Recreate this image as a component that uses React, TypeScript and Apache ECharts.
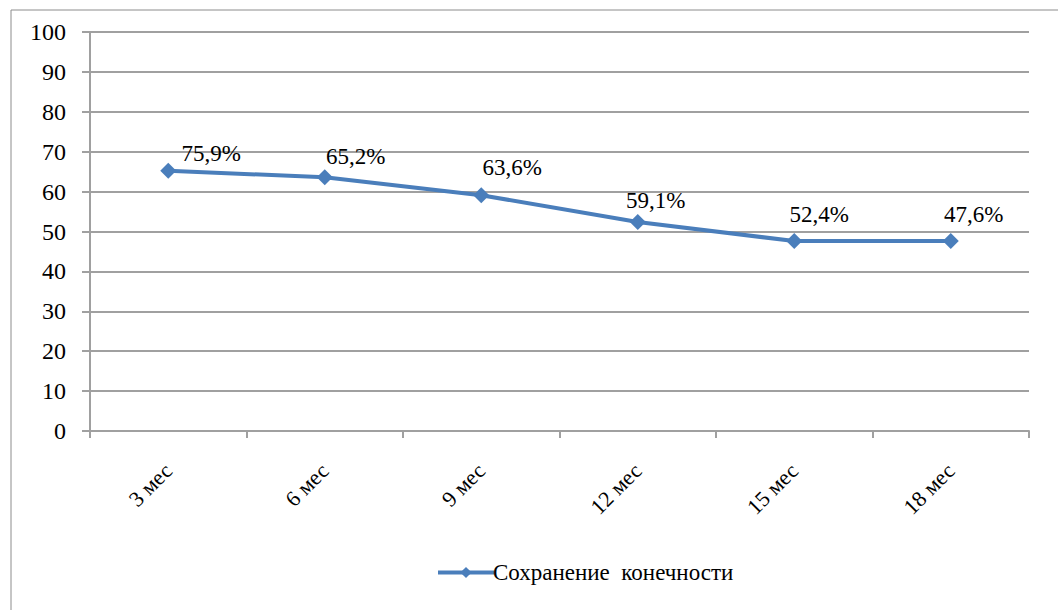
import React, { useEffect, useRef } from "react";
import * as echarts from "echarts";

const categories = ["3 мес", "6 мес", "9 мес", "12 мес", "15 мес", "18 мес"];
const values = [65.2, 63.6, 59.1, 52.4, 47.6, 47.6];
const labelTexts = ["75,9%", "65,2%", "63,6%", "59,1%", "52,4%", "47,6%"];
const seriesName = "Сохранение  конечности";
const yTicks = { min: 0, max: 100, interval: 10 };

const labelOffsets: [number, number][] = [
  [43, 10],
  [31, 7],
  [31, 0],
  [18, 6],
  [25, 1],
  [23, 1],
];

export default function App() {
  const ref = useRef<HTMLDivElement>(null);
  useEffect(() => {
    document.body.style.margin = "0";
    if (!ref.current) return;
    const chart = echarts.init(ref.current, null, { renderer: "svg" });
    const font = "Liberation Serif";
    chart.setOption({
      animation: false,
      backgroundColor: "#ffffff",
      textStyle: { fontFamily: font },
      graphic: [
        {
          type: "rect",
          shape: { x: 11, y: 10, width: 1100, height: 700 },
          style: { fill: "none", stroke: "#8c8c8c", lineWidth: 1 },
          silent: true,
        },
      ],
      grid: { left: 90, top: 32, right: 29, bottom: 179, containLabel: false },
      legend: {
        show: true,
        left: 431,
        top: 556,
        itemWidth: 56,
        itemHeight: 14,
        itemGap: 10,
        lineStyle: { width: 4 },
        textStyle: { fontFamily: font, fontSize: 23, color: "#000", padding: [0, 0, 0, -6] },
        data: [seriesName],
      },
      xAxis: {
        type: "category",
        data: categories,
        boundaryGap: true,
        axisLine: { lineStyle: { color: "#a0a0a0", width: 2 } },
        axisTick: { show: true, length: 7, lineStyle: { color: "#a0a0a0", width: 2 } },
        axisLabel: {
          rotate: 45,
          margin: 36,
          fontFamily: font,
          fontSize: 22,
          color: "#000",
        },
      },
      yAxis: {
        type: "value",
        min: yTicks.min,
        max: yTicks.max,
        interval: yTicks.interval,
        axisLine: { show: true, lineStyle: { color: "#a0a0a0", width: 2 } },
        axisTick: { show: true, length: 8, lineStyle: { color: "#a0a0a0", width: 2 } },
        splitLine: { show: true, lineStyle: { color: "#a0a0a0", width: 2 } },
        axisLabel: { margin: 24, fontFamily: font, fontSize: 24, color: "#000" },
      },
      series: [
        {
          name: seriesName,
          type: "line",
          data: values.map((v, i) => ({
            value: v,
            label: {
              formatter: labelTexts[i],
              offset: labelOffsets[i],
            },
          })),
          symbol: "diamond",
          symbolSize: 16,
          lineStyle: { color: "#4a7ebb", width: 4 },
          itemStyle: { color: "#4a7ebb" },
          label: {
            show: true,
            position: "top",
            distance: 8,
            fontFamily: font,
            fontSize: 23,
            color: "#000",
          },
        },
      ],
    });
    return () => chart.dispose();
  }, []);
  return <div ref={ref} style={{ width: 1058, height: 610 }} />;
}
